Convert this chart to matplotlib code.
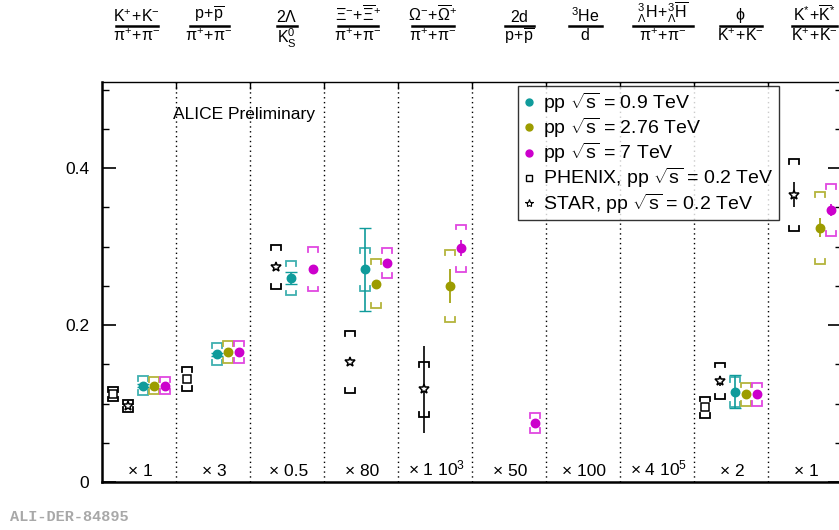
import numpy as np
import matplotlib
matplotlib.use('Agg')
import matplotlib.pyplot as plt
from matplotlib.lines import Line2D

plt.rcParams['font.family'] = ['Liberation Sans', 'DejaVu Sans']
plt.rcParams['mathtext.fontset'] = 'custom'
plt.rcParams['mathtext.rm'] = 'Liberation Sans'
plt.rcParams['mathtext.it'] = 'Liberation Sans:italic'
plt.rcParams['mathtext.bf'] = 'Liberation Sans:bold'

# ratio labels (numerator, denominator) and scale factors per bin
ratio_num = [r'$\mathrm{K^{+}\!+\!K^{-}}$', r'$\mathrm{p\!+\!\overline{p}}$', r'$\mathrm{2\Lambda}$',
             r'$\mathrm{\Xi^{-}\!+\!\overline{\Xi}^{+}}$', r'$\mathrm{\Omega^{-}\!+\!\overline{\Omega}^{+}}$',
             r'$\mathrm{2d}$', r'$\mathrm{^{3}He}$',
             r'$\mathrm{{}^{3}_{\Lambda}H\!+\!{}^{3}_{\Lambda}\overline{H}}$', r'$\mathrm{\phi}$',
             r'$\mathrm{K^{*}\!+\!\overline{K}^{*}}$']
ratio_den = [r'$\mathrm{\pi^{+}\!+\!\pi^{-}}$', r'$\mathrm{\pi^{+}\!+\!\pi^{-}}$', r'$\mathrm{K^{0}_{S}}$',
             r'$\mathrm{\pi^{+}\!+\!\pi^{-}}$', r'$\mathrm{\pi^{+}\!+\!\pi^{-}}$', r'$\mathrm{p\!+\!\overline{p}}$',
             r'$\mathrm{d}$', r'$\mathrm{\pi^{+}\!+\!\pi^{-}}$', r'$\mathrm{K^{+}\!+\!K^{-}}$',
             r'$\mathrm{K^{+}\!+\!K^{-}}$']
scale_labels = ['× 1', '× 3', '× 0.5', '× 80', r'× 1 10$^{3}$',
                '× 50', '× 100', r'× 4 10$^{5}$', '× 2', '× 1']

# ALICE pp 0.9 TeV
a09_bin = [0, 1, 2, 3, 8]
a09_val = [0.123, 0.163, 0.260, 0.271, 0.115]
a09_stat = [0.002, 0.002, 0.008, 0.053, 0.021]
a09_sys = [0.012, 0.014, 0.022, 0.027, 0.019]

# ALICE pp 2.76 TeV
a276_bin = [0, 1, 3, 4, 8, 9]
a276_val = [0.123, 0.166, 0.253, 0.250, 0.112, 0.324]
a276_stat = [0.002, 0.002, 0.004, 0.022, 0.003, 0.012]
a276_sys = [0.011, 0.014, 0.031, 0.046, 0.0145, 0.046]

# ALICE pp 7 TeV
a7_bin = [0, 1, 2, 3, 4, 5, 8, 9]
a7_val = [0.123, 0.166, 0.271, 0.279, 0.298, 0.0756, 0.112, 0.347]
a7_stat = [0.001, 0.001, 0.002, 0.003, 0.010, 0.003, 0.002, 0.008]
a7_sys = [0.011, 0.014, 0.028, 0.019, 0.030, 0.0125, 0.0145, 0.033]

# PHENIX pp 0.2 TeV
phx_bin = [0, 1, 8]
phx_val = [0.112, 0.131, 0.0955]
phx_sys = [0.009, 0.015, 0.0135]

# STAR pp 0.2 TeV
star_bin = [0, 2, 3, 4, 8, 9]
star_val = [0.097, 0.274, 0.153, 0.118, 0.129, 0.366]
star_stat = [0.002, 0.003, 0.003, 0.055, 0.006, 0.016]
star_sys = [0.008, 0.028, 0.039, 0.035, 0.023, 0.046]

fig = plt.figure(figsize=(8.39, 5.30), dpi=100)
ax = fig.add_axes([102 / 839, 48 / 530, 740 / 839, 400 / 530])
ax.set_xlim(0, 10)
ax.set_ylim(0, 0.51)


def brackets(x, y, sys, color):
    hw = 0.065
    leg = 0.006
    for xi, yi, si in zip(x, y, sys):
        top = yi + si
        bot = yi - si
        ax.plot([xi - hw, xi - hw, xi + hw, xi + hw], [top - leg, top, top, top - leg],
                color=color, lw=1.3, zorder=2, solid_joinstyle='miter')
        ax.plot([xi - hw, xi - hw, xi + hw, xi + hw], [bot + leg, bot, bot, bot + leg],
                color=color, lw=1.3, zorder=2, solid_joinstyle='miter')


def series(bins, off, val, stat, sys, color, bcolor, marker, mfc, ms, capsize=0):
    x = np.array(bins) + off
    brackets(x, val, sys, bcolor)
    if stat is not None:
        ax.errorbar(x, val, yerr=stat, fmt='none', ecolor=color, elinewidth=1.2,
                    capsize=capsize, zorder=3)
    ax.plot(x, val, linestyle='none', marker=marker, color=color, mfc=mfc,
            mec=color, ms=ms, mew=1.1, zorder=4)


series(phx_bin, 0.15, phx_val, None, phx_sys, 'black', 'black', 's', 'white', 5.5)
series(star_bin, 0.35, star_val, star_stat, star_sys, 'black', 'black', '*', 'white', 7.5)
series(a09_bin, 0.55, a09_val, a09_stat, a09_sys, '#0f9b9b', '#3fb0b0', 'o', '#0f9b9b', 6, capsize=4)
series(a276_bin, 0.70, a276_val, a276_stat, a276_sys, '#9c9c00', '#b4b43c', 'o', '#9c9c00', 6)
series(a7_bin, 0.85, a7_val, a7_stat, a7_sys, '#cc00cc', '#e048e0', 'o', '#cc00cc', 6)

# bin separators
for b in range(1, 10):
    ax.axvline(b, color='black', lw=1.0, linestyle=(0, (1, 2.5)), zorder=1)

# axes styling
for s in ['left', 'bottom']:
    ax.spines[s].set_linewidth(1.8)
ax.spines['top'].set_linewidth(1.0)
ax.spines['right'].set_linewidth(1.0)
ax.set_yticks([0, 0.2, 0.4])
ax.set_yticklabels(['0', '0.2', '0.4'])
ax.set_yticks(np.arange(0, 0.51, 0.05), minor=True)
ax.tick_params(axis='y', which='major', direction='in', length=10, width=1.2,
               labelsize=12.5, pad=9, right=True)
ax.tick_params(axis='y', which='minor', direction='in', length=5, width=1.0, right=True)
ax.set_xticks(np.arange(1, 10))
ax.set_xticks([], minor=True)
ax.tick_params(axis='x', which='major', direction='in', length=5, width=1.0,
               bottom=False, top=True, labelbottom=False)

ax.text(0.96, 0.468, 'ALICE Preliminary', fontsize=12.5, ha='left', va='center')

# scale factors
for i, lab in enumerate(scale_labels):
    ax.text(i + 0.52, 0.004, lab, fontsize=12.5, ha='center', va='bottom')

# ratio labels above the frame
label_x = [0.47, 1.45, 2.5, 3.46, 4.47, 5.64, 6.53, 7.58, 8.63, 9.63]
line_w = [0.57, 0.52, 0.26, 0.55, 0.57, 0.40, 0.45, 0.80, 0.57, 0.60]
for i in range(10):
    xf = (102 + label_x[i] * 74) / 839
    fig.text(xf, 1 - 25 / 530, ratio_num[i], fontsize=11.5, ha='center', va='bottom')
    fig.text(xf, 1 - 27 / 530, ratio_den[i], fontsize=11.5, ha='center', va='top')
    hw = line_w[i] * 74 / 2 / 839
    fig.add_artist(Line2D([xf - hw, xf + hw], [1 - 26 / 530, 1 - 26 / 530],
                          color='black', lw=1.8, transform=fig.transFigure))

# legend
handles = [
    Line2D([], [], linestyle='none', marker='o', color='#0f9b9b', ms=5),
    Line2D([], [], linestyle='none', marker='o', color='#9c9c00', ms=5),
    Line2D([], [], linestyle='none', marker='o', color='#cc00cc', ms=5),
    Line2D([], [], linestyle='none', marker='s', color='black', mfc='white', ms=5, mew=1),
    Line2D([], [], linestyle='none', marker='*', color='black', mfc='white', ms=6, mew=0.8),
]
labels = [r'pp $\sqrt{\mathrm{s}}$ = 0.9 TeV', r'pp $\sqrt{\mathrm{s}}$ = 2.76 TeV',
          r'pp $\sqrt{\mathrm{s}}$ = 7 TeV', r'PHENIX, pp $\sqrt{\mathrm{s}}$ = 0.2 TeV',
          r'STAR, pp $\sqrt{\mathrm{s}}$ = 0.2 TeV']
leg = ax.legend(handles, labels, loc='upper left', bbox_to_anchor=(0.562, 0.99),
                fontsize=14, frameon=True, fancybox=False, handlelength=0.6,
                handletextpad=0.45, borderpad=0.25, labelspacing=0.05, borderaxespad=0)
leg.get_frame().set_edgecolor('black')
leg.get_frame().set_linewidth(1.0)
leg.set_zorder(10)

fig.text(10 / 839, 1 - 517 / 530, 'ALI-DER-84895', fontsize=11, color='#a8a8a8',
         family='Liberation Mono', weight='bold', ha='left', va='center')

fig.savefig('out.png', dpi=100)
